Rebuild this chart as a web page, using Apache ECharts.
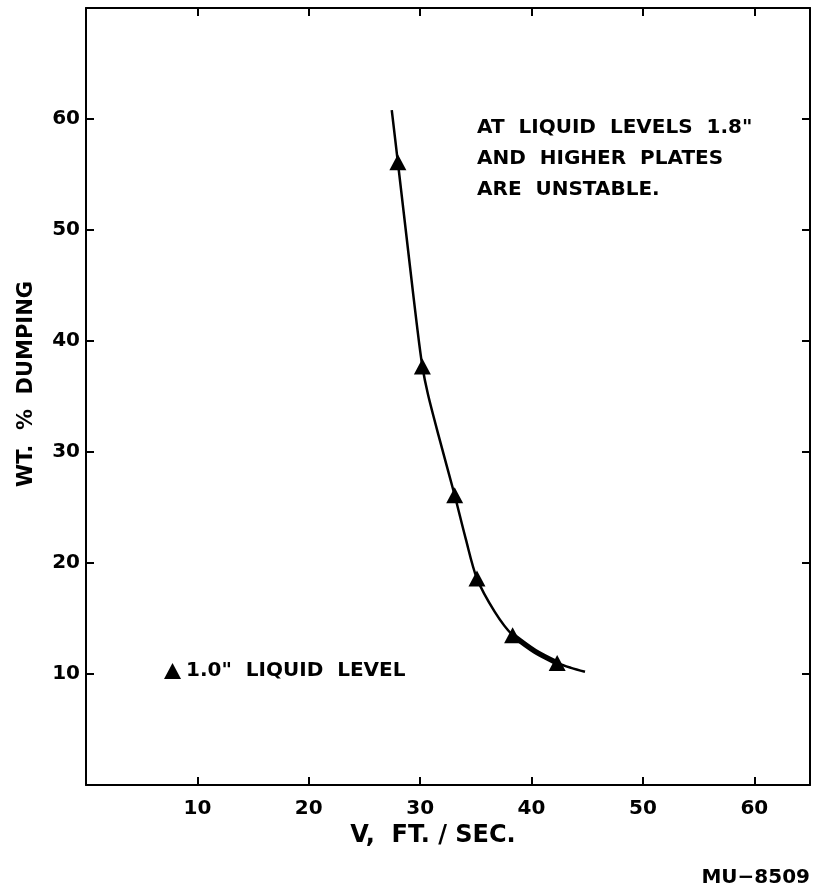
<!DOCTYPE html>
<html>
<head>
<meta charset="utf-8">
<script src="https://cdn.jsdelivr.net/npm/echarts@6/dist/echarts.min.js"></script>
<style>html,body{margin:0;padding:0;background:#fff;}#c{width:813px;height:894px;}</style>
</head>
<body>
<div id="c"></div>
<script>
// Measured points (triangles): velocity (ft/sec) vs wt. % dumping
var velocity = [28.0, 30.2, 33.1, 35.1, 38.3, 42.3];
var dumping  = [56.1, 37.7, 26.1, 18.6, 13.5, 11.0];

// Hand-drawn fitted curve through the points
var curveV = [27.45, 28.0, 29.1, 29.7, 30.2, 30.7, 31.65, 33.1, 34.1, 35.1, 36.7, 38.3, 40.3, 42.3, 43.55, 44.8];
var curveD = [60.8, 56.1, 46.6, 41.5, 37.7, 35.2, 31.5, 26.1, 22.15, 18.6, 15.6, 13.5, 12.05, 11.0, 10.55, 10.2];

// Heavier-inked portion of the curve
var thickV = [38.3, 40.3, 42.3];
var thickD = [13.5, 12.05, 11.0];

var xTicks = [10, 20, 30, 40, 50, 60];
var yTicks = [10, 20, 30, 40, 50, 60];

var noteLines = ['AT  LIQUID  LEVELS  1.8"', 'AND  HIGHER  PLATES', 'ARE  UNSTABLE.'];
var legendName = '1.0"  LIQUID  LEVEL';
var xTitle = 'V,  FT. / SEC.';
var yTitle = 'WT.  %  DUMPING';
var figId = 'MU\u22128509';

function zip(a, b) { return a.map(function (v, i) { return [v, b[i]]; }); }

var FONT = 'DejaVu Sans';
var axisCommon = {
  type: 'value',
  axisLine: { show: true, onZero: false, lineStyle: { color: '#000', width: 2 } },
  axisTick: { show: true, inside: true, length: 8, lineStyle: { color: '#000', width: 2 } },
  splitLine: { show: false }
};

var chart = echarts.init(document.getElementById('c'), null, { renderer: 'canvas' });
chart.setOption({
  backgroundColor: '#fff',
  animation: false,
  grid: { left: 86, right: 3, top: 8, bottom: 109, containLabel: false },
  legend: {
    data: [{ name: legendName, icon: 'triangle' }],
    left: 159, top: 656, itemWidth: 17, itemHeight: 16, itemGap: 6,
    textStyle: { color: '#000', fontSize: 20, fontWeight: 'bold', fontFamily: FONT },
    selectedMode: false
  },
  xAxis: [
    Object.assign({}, axisCommon, {
      position: 'bottom', min: 0, max: 65, interval: 10,
      axisLabel: { color: '#000', fontSize: 20, fontWeight: 'bold', fontFamily: FONT, margin: 14,
        formatter: function (v) { return xTicks.indexOf(v) >= 0 ? String(v) : ''; } }
    }),
    Object.assign({}, axisCommon, {
      position: 'top', min: 0, max: 65, interval: 10, axisLabel: { show: false }
    })
  ],
  yAxis: [
    Object.assign({}, axisCommon, {
      position: 'left', min: 0, max: 70, interval: 10,
      axisLabel: { color: '#000', fontSize: 20, fontWeight: 'bold', fontFamily: FONT, margin: 6,
        formatter: function (v) { return yTicks.indexOf(v) >= 0 ? String(v) : ''; } }
    }),
    Object.assign({}, axisCommon, {
      position: 'right', min: 0, max: 70, interval: 10, axisLabel: { show: false }
    })
  ],
  series: [
    {
      type: 'line', name: 'curve', data: zip(curveV, curveD), smooth: 0.3,
      showSymbol: false, silent: true, lineStyle: { color: '#000', width: 2.5 }
    },
    {
      type: 'line', name: 'thick', data: zip(thickV, thickD), smooth: 0.3,
      showSymbol: false, silent: true, lineStyle: { color: '#000', width: 5.5 }
    },
    {
      type: 'scatter', name: legendName, data: zip(velocity, dumping),
      symbol: 'triangle', symbolSize: [17, 16], itemStyle: { color: '#000', opacity: 1 }
    }
  ],
  graphic: [
    { type: 'text', left: 477, top: 118, style: { text: noteLines[0], fill: '#000', font: 'bold 20px "DejaVu Sans"' } },
    { type: 'text', left: 477, top: 149, style: { text: noteLines[1], fill: '#000', font: 'bold 20px "DejaVu Sans"' } },
    { type: 'text', left: 477, top: 180, style: { text: noteLines[2], fill: '#000', font: 'bold 20px "DejaVu Sans"' } },
    { type: 'text', x: 433, y: 836, style: { text: xTitle, fill: '#000', font: 'bold 24px "DejaVu Sans"', align: 'center', verticalAlign: 'middle' } },
    { type: 'text', x: 27, y: 384, rotation: Math.PI / 2, style: { text: yTitle, fill: '#000', font: 'bold 21px "DejaVu Sans"', align: 'center', verticalAlign: 'middle' } },
    { type: 'text', right: 3, top: 868, style: { text: figId, fill: '#000', font: 'bold 20px "DejaVu Sans"' } }
  ]
});
</script>
</body>
</html>
